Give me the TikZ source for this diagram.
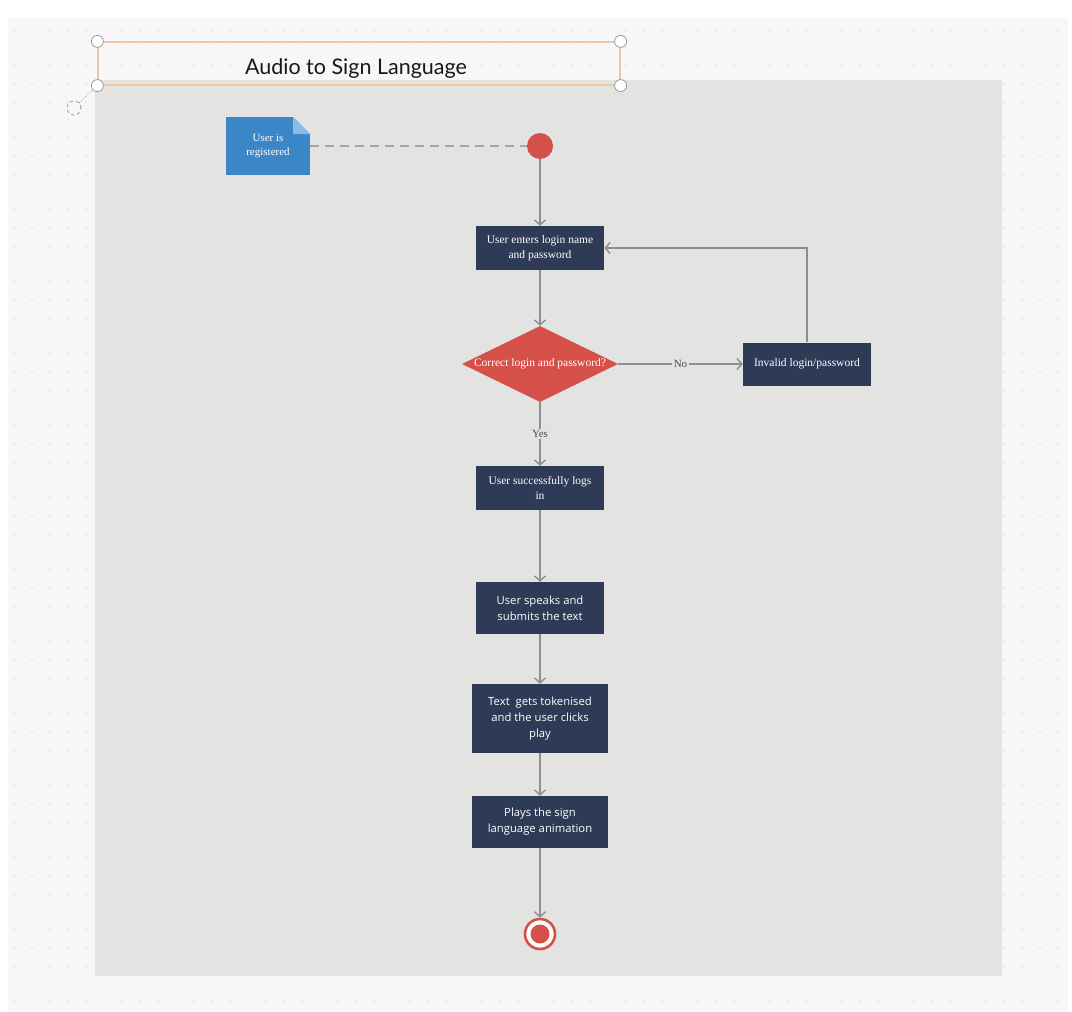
\documentclass[tikz,border=0pt]{standalone}
\usepackage{fontspec}
\setmainfont{Liberation Serif}
\newfontfamily\opensans{Open Sans}
\newfontfamily\lato{Lato}
\usetikzlibrary{arrows.meta,shapes.geometric}
\definecolor{navy}{HTML}{2F3A56}
\definecolor{flagred}{HTML}{D6504A}
\definecolor{noteblue}{HTML}{3A86C6}
\definecolor{foldblue}{HTML}{8DBBE6}
\definecolor{panel}{HTML}{E3E3E1}
\definecolor{paper}{HTML}{F7F7F9}
\definecolor{griddot}{HTML}{D2D3DA}
\definecolor{wire}{HTML}{8E8E8E}
\definecolor{peach}{HTML}{F2C6A2}
\tikzset{
  act/.style = {rectangle, fill=navy, text=white, align=center, inner sep=2pt, font=\fontsize{11.5}{14.5}\selectfont, minimum width=128pt, minimum height=44pt},
  acts/.style = {act, font=\opensans\fontsize{11.3}{16}\selectfont},
  dec/.style = {diamond, fill=flagred, inner sep=0pt, minimum width=156pt, minimum height=76pt},
  dectxt/.style = {text=white, font=\fontsize{11.5}{14}\selectfont},
  note/.style = {rectangle, fill=noteblue, text=white, align=center, minimum width=84pt, minimum height=58pt, font=\fontsize{11}{14}\selectfont,
    path picture={
      \fill[panel] ([xshift=-17pt]path picture bounding box.north east) -- (path picture bounding box.north east) -- ([yshift=-17pt]path picture bounding box.north east) -- cycle;
      \fill[foldblue] ([xshift=-17pt]path picture bounding box.north east) -- ([xshift=-17pt,yshift=-17pt]path picture bounding box.north east) -- ([yshift=-17pt]path picture bounding box.north east) -- cycle;}},
  initial/.style = {circle, fill=flagred, minimum size=26pt, inner sep=0pt},
  final/.style = {circle, draw=flagred, line width=2.6pt, fill=white, minimum size=30pt, inner sep=0pt,
    path picture={\fill[flagred] (path picture bounding box.center) circle (9.5pt);}},
  lbl/.style = {fill=panel, text=black!70, inner sep=1.5pt, font=\fontsize{11}{13}\selectfont},
  handle/.style = {circle, draw=black!40, fill=white, line width=0.8pt, minimum size=12pt, inner sep=0pt},
  flow/.style = {->, draw=wire, line width=1.4pt}
}

\begin{document}
\begin{tikzpicture}[x=1pt, y=-1pt, >={Straight Barb[length=5pt,width=11pt]}]
\useasboundingbox (0,0) rectangle (1072,1012);
\fill[white] (0,0) rectangle (1072,1012);
\fill[paper] (8,18) rectangle (1068,1012);
\foreach \x in {14,32,...,1066}
  \foreach \y in {30,48,...,1006}
    \fill[griddot] (\x,\y) circle (0.85pt);
\fill[panel] (95,80) rectangle (1002,976);

\node [draw=peach, line width=1.2pt, minimum width=522pt, minimum height=43pt, inner sep=0pt,
  label={[xshift=-3pt, yshift=-5pt, font=\lato\fontsize{21.5}{25}\selectfont, text=black!90]center:Audio to Sign Language}] (ttl) at (359,63.5) {};
\foreach \a/\n in {north west/hnw, north east/hne, south west/hsw, south east/hse}
  \node [handle] (\n) at (ttl.\a) {};
\node [handle, dashed, minimum size=14pt, fill=none] (rot) at (74,108) {};
\draw [dotted, black!40, line width=0.8pt] (rot) -- (hsw);

\node [note] (reg) at (268,146) {User is\\registered};
\node [initial] (start) at (540,146) {};
\node [act] (usr) at (540,248) {User enters login name\\and password};
\node [dec, label={[dectxt]center:Correct login and password?}] (chk) at (540,364) {};
\node [act, minimum height=43pt] (bad) at (807,364) {Invalid login/password};
\node [act] (ok) at (540,488) {User successfully logs\\in};
\node [acts, minimum height=52pt] (speak) at (540,608) {User speaks and\\submits the text};
\node [acts, minimum width=136pt, minimum height=69pt] (tok) at (540,718.5) {Text~ gets tokenised\\and the user clicks\\play};
\node [acts, minimum width=136pt, minimum height=52pt] (play) at (540,822) {Plays the sign\\language animation};
\node [final] (stop) at (540,934) {};

\draw [draw=wire!80, line width=1.2pt, dash pattern=on 9pt off 6pt] (reg) -- (start);
\draw [flow] (start) -- (usr);
\draw [flow] (usr) -- (chk);
\draw [flow] (chk) -- node[lbl] {No} (bad);
\draw [flow] (bad.north) |- (usr.east);
\draw [flow] (chk) -- node[lbl] {Yes} (ok);
\draw [flow] (ok) -- (speak);
\draw [flow] (speak) -- (tok);
\draw [flow] (tok) -- (play);
\draw [flow] (play) -- (stop);
\end{tikzpicture}
\end{document}
